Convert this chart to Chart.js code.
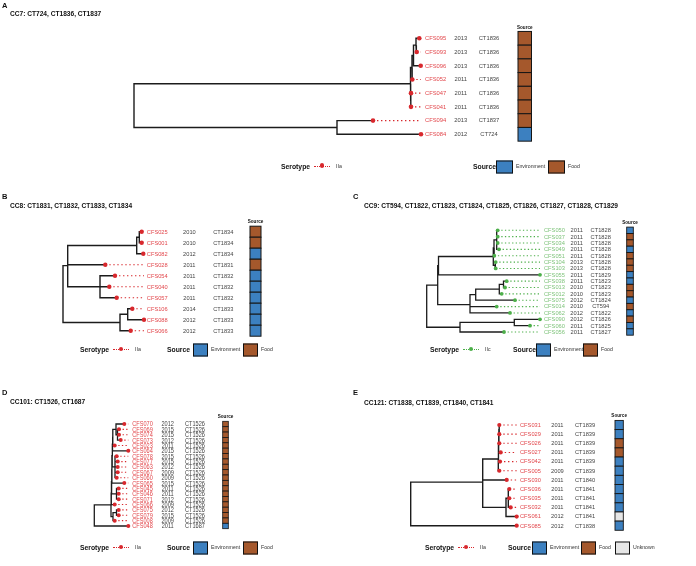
<!DOCTYPE html>
<html><head><meta charset="utf-8">
<script src="https://cdn.jsdelivr.net/npm/chart.js@4.4.1/dist/chart.umd.min.js"></script>
<style>
body{margin:0;background:#fff;}
#wrap{position:relative;width:696px;height:566px;overflow:hidden;font-family:"Liberation Sans",Arial,sans-serif;color:#111;}
canvas{position:absolute;left:0;top:0;}
.t{position:absolute;white-space:nowrap;line-height:1;transform:translateY(-50%);}
.lt{font-weight:bold;font-size:7.5px;}
.ti{font-weight:bold;font-size:6.6px;}
.lh{font-weight:bold;font-size:6.8px;}
.ll{font-size:5.2px;color:#333;}
.box{position:absolute;border:1px solid #111;box-sizing:border-box;transform:translateY(-50%);}
.sym{position:absolute;height:0;border-top:1.3px dotted;}
.sym i{position:absolute;left:50%;top:-3px;width:4.4px;height:4.4px;margin-left:-2.2px;margin-top:-0.6px;border-radius:50%;}
</style></head>
<body><div id="wrap">
<canvas id="cA" width="696" height="566"></canvas>
<canvas id="cB" width="696" height="566"></canvas>
<canvas id="cC" width="696" height="566"></canvas>
<canvas id="cD" width="696" height="566"></canvas>
<canvas id="cE" width="696" height="566"></canvas>
</div>
<script>
// ---- data ----
const namesA=['CFS095','CFS093','CFS096','CFS052','CFS047','CFS041','CFS094','CFS084'];
const yearsA=['2013','2013','2013','2011','2011','2011','2013','2012'];
const ctsA=['CT1836','CT1836','CT1836','CT1836','CT1836','CT1836','CT1837','CT724'];
const srcA=['Food','Food','Food','Food','Food','Food','Food','Environment'];
const treeA='(((((CFS095:3.3,CFS093:0.7):2.5,CFS096:7.2):1.5,CFS052:0.3):1.5,(CFS047:0.2,CFS041:0.2):0.3):276.5,(CFS094:36,CFS084:84):203);';

const namesB=['CFS025','CFS001','CFS082','CFS028','CFS054','CFS040','CFS057','CFS106','CFS088','CFS066'];
const yearsB=['2010','2010','2012','2011','2011','2011','2011','2014','2012','2012'];
const ctsB=['CT1834','CT1834','CT1834','CT1831','CT1832','CT1832','CT1832','CT1833','CT1833','CT1833'];
const srcB=['Food','Food','Environment','Food','Environment','Environment','Environment','Environment','Environment','Environment'];
const treeB='((((CFS025:2.4,CFS001:2.4):2.6,CFS082:6.6):69,CFS028:37.6,(CFS054:15,CFS040:9.3,CFS057:16.7):32.3):4.7,((CFS106:4.6,CFS088:16.3):7.7,CFS066:10.7):57);';

const namesC=['CFS050','CFS037','CFS034','CFS049','CFS051','CFS104','CFS103','CFS055','CFS038','CFS013','CFS012','CFS075','CFS014','CFS062','CFS090','CFS060','CFS056'];
const yearsC=['2011','2011','2011','2011','2011','2013','2013','2011','2011','2010','2010','2012','2010','2012','2012','2011','2011'];
const ctsC=['CT1828','CT1828','CT1828','CT1828','CT1828','CT1828','CT1828','CT1829','CT1823','CT1823','CT1823','CT1824','CT594','CT1822','CT1826','CT1825','CT1827'];
const srcC=['Environment','Food','Food','Environment','Food','Food','Food','Environment','Environment','Food','Food','Environment','Food','Environment','Food','Environment','Environment'];
const treeC='((((((CFS050:1,CFS037:1,CFS034:1,CFS049:2.3):2.7,CFS051:0.3):0.7,(CFS104:0.7,CFS103:0.7):1.7):54.8,CFS055:101.5):0.8,((((CFS038:3.2,CFS013:1.5):4.2,CFS012:2.4):23.6,CFS075:39.3):5.7,CFS014:26.7,CFS062:40):32.3):11,((CFS090:25.7,CFS060:15.7):54.3,CFS056:44):33.3);';

const namesD=['CFS070','CFS069','CFS074','CFS073','CFS023','CFS064','CFS078','CFS077','CFS063','CFS067','CFS060','CFS065','CFS045','CFS046','CFS071','CFS066','CFS075','CFS079','CFS008','CFS048'];
const yearsD=['2012','2015','2015','2012','2011','2015','2015','2015','2012','2009','2009','2015','2011','2011','2012','2009','2012','2015','2009','2011'];
const ctsD=['CT1526','CT1526','CT1526','CT1526','CT1526','CT1526','CT1526','CT1526','CT1526','CT1526','CT1526','CT1526','CT1526','CT1526','CT1526','CT1526','CT1526','CT1526','CT1526','CT1687'];
const srcD=['Food','Food','Food','Food','Food','Food','Food','Food','Food','Food','Food','Food','Food','Food','Food','Food','Food','Food','Food','Environment'];
const treeD='(((((((((CFS070:8.3,(CFS069:1.5,CFS074:1.5,CFS073:3.2):1.5):3.2,CFS023:1.9):0.3,CFS064:15.8):0.3,(CFS078:1.7,CFS077:2.7,CFS063:2.7,CFS067:2.7,CFS060:1.7):2.8):0.3,CFS065:12.4):0.3,(CFS045:2.2,CFS046:2.2,CFS071:2.2):4.9):0.3,CFS066:3.4):0.3,((CFS075:2.2,CFS079:2.2):3.5,CFS008:1.7):2):16.7,CFS048:34);';

const namesE=['CFS031','CFS029','CFS026','CFS027','CFS042','CFS005','CFS030','CFS036','CFS035','CFS032','CFS061','CFS085'];
const yearsE=['2011','2011','2011','2011','2011','2009','2011','2011','2011','2011','2012','2012'];
const ctsE=['CT1839','CT1839','CT1839','CT1839','CT1839','CT1839','CT1840','CT1841','CT1841','CT1841','CT1841','CT1838'];
const srcE=['Environment','Environment','Food','Food','Environment','Environment','Environment','Environment','Environment','Environment','Unknown','Environment'];
const treeE='((((((CFS031:0.2,CFS029:0.2):0.2,CFS026:0.4):0.3,CFS027:2.1):0.3,CFS042:1.7,CFS005:1):15.6,CFS030:24,((CFS036:1,CFS035:1,CFS032:2.4):2.3,CFS061:10.7):23.3):72,CFS085:106);';

const SRC_COL={Environment:'#3C80C0',Food:'#A5582C',Unknown:'#E6E6E6'};
const RED={dot:'#D8282D',line:'#D8282D',text:'#E2474C'};
const GREEN={dot:'#4DAF4A',line:'#4DAF4A',text:'#80C47D'};

function parseNewick(s){
  let i=0;
  function node(){
    const n={children:[],name:'',len:0};
    if(s[i]==='('){ i++; n.children.push(node()); while(s[i]===','){ i++; n.children.push(node()); } i++; }
    while(i<s.length && !',():;'.includes(s[i])) n.name+=s[i++];
    if(s[i]===':'){ i++; let num=''; while(i<s.length && !',();'.includes(s[i])) num+=s[i++]; n.len=parseFloat(num); }
    return n;
  }
  return node();
}

const tipLabels={
  id:'tipLabels',
  afterDatasetsDraw(chart,args,o){
    const ctx=chart.ctx, ys=chart.scales.y, R=chart.chartArea.right;
    const h=Math.abs(ys.getPixelForValue(1)-ys.getPixelForValue(0));
    ctx.save();
    ctx.textBaseline='middle';
    ctx.font=o.font+'px "Liberation Sans"';
    const txt=(s,x,y)=>{ ctx.save(); ctx.translate(x,y+0.3); ctx.scale(1,o.sy); ctx.fillText(s,0,0); ctx.restore(); };
    o.names.forEach((nm,i)=>{
      const y=ys.getPixelForValue(i);
      ctx.fillStyle=o.color.text; ctx.textAlign='left';
      txt(nm,R+o.nameDx,y);
      ctx.fillStyle='#444'; ctx.textAlign='center';
      txt(o.years[i],R+o.yearDx,y);
      txt(o.cts[i],R+o.ctDx,y);
      ctx.fillStyle=SRC_COL[o.src[i]];
      ctx.fillRect(R+o.boxDx,y-h/2,o.boxW,h);
      ctx.strokeStyle='#151515'; ctx.lineWidth=o.boxLw;
      ctx.strokeRect(R+o.boxDx,y-h/2,o.boxW,h);
    });
    const top=ys.getPixelForValue(0)-h/2;
    ctx.fillStyle='#111'; ctx.textAlign='center';
    ctx.font='bold 4.6px "Liberation Sans"';
    ctx.fillText('Source',R+o.boxDx+o.boxW/2,top-4.2);
    ctx.restore();
  }
};

function makePanel(p){
  const root=parseNewick(p.tree);
  const tips=[];
  (function walk(n,x){
    n.x=x;
    if(!n.children.length){ n.y=p.names.indexOf(n.name); tips.push(n); return n.y; }
    const ys=n.children.map(c=>walk(c,x+c.len));
    n.y=ys.reduce((a,b)=>a+b,0)/ys.length;
    return n.y;
  })(root,0);
  const maxX=Math.max(...tips.map(t=>t.x));
  const edges=[];
  (function e(n){
    n.children.forEach(c=>{
      edges.push({x:n.x,y:n.y},{x:n.x,y:c.y},{x:c.x,y:c.y},{x:c.x,y:null});
      e(c);
    });
  })(root);
  const dots=[];
  tips.forEach(t=>{ if(t.x<maxX-1e-6) dots.push({x:t.x,y:t.y},{x:maxX,y:t.y},{x:maxX,y:null}); });
  const [l,t,r,b]=p.area;
  new Chart(document.getElementById(p.id),{
    type:'line',
    data:{datasets:[
      {data:edges,borderColor:'#1c1c1c',borderWidth:p.lw,pointRadius:0,spanGaps:false,clip:false,order:3,borderCapStyle:'square'},
      {data:dots,borderColor:p.color.line,borderWidth:1.1,borderDash:p.dash,pointRadius:0,spanGaps:false,clip:false,order:2},
      {data:tips.map(q=>({x:q.x,y:q.y})),showLine:false,pointRadius:p.dotR,pointBackgroundColor:p.color.dot,pointBorderWidth:0,clip:false,order:1}
    ]},
    options:{
      responsive:false,animation:false,devicePixelRatio:1,events:[],
      layout:{padding:{left:l,top:t,right:696-r,bottom:566-b}},
      scales:{
        x:{type:'linear',min:0,max:maxX,display:false},
        y:{type:'linear',min:0,max:p.names.length-1,reverse:true,display:false}
      },
      plugins:{legend:{display:false},tooltip:{enabled:false},
        tipLabels:{names:p.names,years:p.years,cts:p.cts,src:p.src,color:p.color,font:p.font,sy:p.sy||1,
          nameDx:p.nameDx,yearDx:p.yearDx,ctDx:p.ctDx,boxDx:p.boxDx,boxW:p.boxW,boxLw:p.boxLw}}
    },
    plugins:[tipLabels]
  });
}

const panels=[
  {id:'cA',tree:treeA,names:namesA,years:yearsA,cts:ctsA,src:srcA,color:RED,area:[134,38.3,421,134.3],
   nameDx:4,yearDx:39.7,ctDx:68,boxDx:97,boxW:13.5,boxLw:1,font:5.8,dotR:2.3,lw:1.4,dash:[1.4,2.6]},
  {id:'cB',tree:treeB,names:namesB,years:yearsB,cts:ctsB,src:srcB,color:RED,area:[63,231.7,144,330.7],
   nameDx:2.8,yearDx:45.4,ctDx:79.3,boxDx:106,boxW:11,boxLw:1,font:5.7,dotR:2.2,lw:1.4,dash:[1.4,2.6]},
  {id:'cC',tree:treeC,names:namesC,years:yearsC,cts:ctsC,src:srcC,color:GREEN,area:[426.7,230.3,540,332],
   nameDx:4,yearDx:36.7,ctDx:60.7,boxDx:86.7,boxW:6.6,boxLw:0.9,font:5.7,dotR:1.9,lw:1.3,dash:[1.3,2.3]},
  {id:'cD',tree:treeD,names:namesD,years:yearsD,cts:ctsD,src:srcD,color:RED,area:[94.3,424,128.3,526],
   nameDx:4,yearDx:39.4,ctDx:66.7,boxDx:94.4,boxW:5.6,boxLw:0.8,font:5.6,sy:1.4,dotR:2,lw:1.3,dash:[1.3,2.3]},
  {id:'cE',tree:treeE,names:namesE,years:yearsE,cts:ctsE,src:srcE,color:RED,area:[410.7,425,516.7,525.7],
   nameDx:3.3,yearDx:40.7,ctDx:68.3,boxDx:98.3,boxW:8.3,boxLw:0.9,font:5.7,dotR:2.1,lw:1.4,dash:[1.4,2.6]}
];
panels.forEach(makePanel);

// ---- titles and legends ----
const wrap=document.getElementById('wrap');
function put(html,cls,x,y){
  const d=document.createElement('div');
  d.className='t '+cls; d.style.left=x+'px'; d.style.top=y+'px'; d.innerHTML=html;
  wrap.appendChild(d); return d;
}
const titles=[
  ['A','CC7: CT724, CT1836, CT1837',2,6,10,13.5],
  ['B','CC8: CT1831, CT1832, CT1833, CT1834',2,197,10,206],
  ['C','CC9: CT594, CT1822, CT1823, CT1824, CT1825, CT1826, CT1827, CT1828, CT1829',353,197,364,206],
  ['D','CC101: CT1526, CT1687',2,393,10,402],
  ['E','CC121: CT1838, CT1839, CT1840, CT1841',353,393,364,403]
];
titles.forEach(([L,T,lx,ly,tx,ty])=>{ put(L,'lt',lx,ly); put(T,'ti',tx,ty); });

function legend(y,sx,col,sero,srcX,boxes,bw,bh){
  put('Serotype','lh',sx,y);
  const s=document.createElement('div'); s.className='sym';
  s.style.left=(sx+33)+'px'; s.style.top=(y-0.6)+'px'; s.style.width='16px'; s.style.borderTopColor=col.line;
  s.innerHTML='<i style="background:'+col.dot+'"></i>'; wrap.appendChild(s);
  put(sero,'ll',sx+55,y);
  put('Source','lh',srcX,y);
  boxes.forEach(([name,x])=>{
    const b=document.createElement('div'); b.className='box';
    b.style.left=x+'px'; b.style.top=y+'px'; b.style.width=bw+'px'; b.style.height=bh+'px';
    b.style.background=SRC_COL[name]; wrap.appendChild(b);
    put(name,'ll',x+bw+3,y);
  });
}
legend(166.5,281,RED,'IIa',473,[['Environment',496],['Food',548]],17,13);
legend(350,80,RED,'IIa',167,[['Environment',193],['Food',243]],15,13);
legend(350,430,GREEN,'IIc',513,[['Environment',536],['Food',583]],15,13);
legend(548,80,RED,'IIa',167,[['Environment',193],['Food',243]],15,13);
legend(548,425,RED,'IIa',508,[['Environment',532],['Food',581],['Unknown',615]],15,13);
</script>
</body></html>
